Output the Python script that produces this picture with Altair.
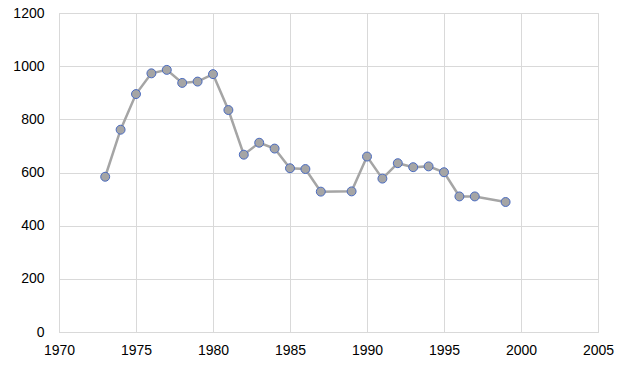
import altair as alt
import pandas as pd

years = [1973, 1974, 1975, 1976, 1977, 1978, 1979, 1980, 1981, 1982, 1983, 1984,
         1985, 1986, 1987, 1989, 1990, 1991, 1992, 1993, 1994, 1995, 1996, 1997, 1999]
values = [584, 761, 895, 973, 986, 937, 942, 970, 835, 667, 712, 690,
          616, 613, 528, 529, 660, 577, 635, 620, 623, 601, 510, 510, 489]

df = pd.DataFrame({"year": years, "value": values})

x = alt.X("year:Q", scale=alt.Scale(domain=[1970, 2005], nice=False, zero=False),
          axis=alt.Axis(values=list(range(1970, 2006, 5)), format="d", title=None,
                        grid=True, gridColor="#d9d9d9", domainColor="#d9d9d9",
                        ticks=False, labelPadding=11, labelFontSize=14,
                        labelFlush=False, labelBound=False, labelOverlap=False,
                        labelColor="#000000", labelFont="Liberation Sans"))
y = alt.Y("value:Q", scale=alt.Scale(domain=[0, 1200], nice=False),
          axis=alt.Axis(values=list(range(0, 1201, 200)), format="d", title=None,
                        grid=True, gridColor="#d9d9d9", domainColor="#d9d9d9",
                        ticks=False, labelPadding=15, labelFontSize=14,
                        labelFlush=False, labelBound=False, labelOverlap=False,
                        labelColor="#000000", labelFont="Liberation Sans"))

line = alt.Chart(df).mark_line(color="#a5a5a5", strokeWidth=2.5).encode(x=x, y=y)
pts = alt.Chart(df).mark_point(filled=True, fill="#a5a5a5", stroke="#4a6bc0",
                               strokeWidth=1, opacity=1, size=80).encode(x=x, y=y)

chart = (line + pts).properties(
    width=539, height=319,
    autosize=alt.AutoSizeParams(type="none"),
    padding={"left": 59, "top": 13, "right": 27, "bottom": 46},
).configure_view(stroke="#d9d9d9")

chart.save("out.html", embed_options={"renderer": "svg", "actions": False})
